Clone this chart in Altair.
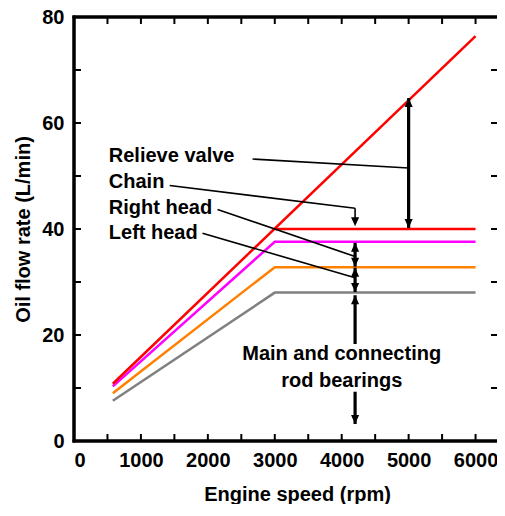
import altair as alt
import pandas as pd

# ---------------- data ----------------
pump_x = [580, 6000]
pump_y = [10.8, 76.4]
relief_x = [3000, 6000]
relief_y = [40.0, 40.0]
curve_x = [580, 3000, 6000]
chain_y = [10.3, 37.6, 37.6]
right_head_y = [9.0, 32.8, 32.8]
left_head_y = [7.6, 28.0, 28.0]

series_names = ["Pump output", "Relief valve limit", "Less chain", "Less right head", "Less left head"]
series_colors = ["#FF0000", "#FF0000", "#FF00FF", "#FF8000", "#808080"]

label_text = ["Relieve valve", "Chain", "Right head", "Left head"]
label_x = [520, 520, 520, 520]
label_y = [53.7, 48.8, 43.9, 39.25]
bearing_text = ["Main and connecting", "rod bearings"]
bearing_x = [4000, 4000]
bearing_y = [16.4, 11.4]

leader_x = [2668, 1430, 4200, 2145, 1920]
leader_y = [53.2, 48.2, 43.9, 43.7, 39.2]
leader_x2 = [5000, 4200, 4200, 4200, 4200]
leader_y2 = [51.5, 43.9, 41.8, 34.8, 30.8]

shaft_x = [5000, 4200, 4200, 4200, 4200]
shaft_y = [64.7, 37.4, 32.7, 18.3, 9.3]
shaft_y2 = [40.2, 32.9, 28.1, 27.5, 3.2]

head_x = [5000, 5000, 4200, 4200, 4200, 4200, 4200, 4200, 4200]
head_y = [64.7, 40.2, 40.5, 37.4, 32.9, 32.7, 28.1, 27.5, 3.2]
head_dir = ["up", "down", "down", "up", "down", "up", "down", "up", "down"]

x_labels = [0, 1000, 2000, 3000, 4000, 5000, 6000]
y_labels = [0, 20, 40, 60, 80]
x_ticks = [500, 1000, 1500, 2000, 2500, 3000, 3500, 4000, 4500, 5000, 5500, 6000]
y_ticks = [10, 20, 30, 40, 50, 60, 70]
x_min, x_max = 0, 6440
y_min, y_max = 0, 80

# ---------------- build ----------------
W, H = 431, 424
FONT = "Liberation Sans"
px_x = (x_max - x_min) / W   # rpm per pixel
px_y = (y_max - y_min) / H   # L/min per pixel

rows = []
def add(name, xs, ys):
    for i, (a, b) in enumerate(zip(xs, ys)):
        rows.append({"series": name, "x": a, "y": b, "o": i})
add("Less left head", curve_x, left_head_y)
add("Less right head", curve_x, right_head_y)
add("Less chain", curve_x, chain_y)
add("Pump output", pump_x, pump_y)
add("Relief valve limit", relief_x, relief_y)
lines_df = pd.DataFrame(rows)

xscale = alt.Scale(domain=[x_min, x_max], nice=False, zero=False)
yscale = alt.Scale(domain=[y_min, y_max], nice=False, zero=False)

xaxis = alt.Axis(values=x_labels, format="d", gridOpacity=0, tickOpacity=0, domainOpacity=0,
                 labelFontSize=20, labelFontWeight="bold", labelFont=FONT,
                 labelColor="black", labelPadding=4, title="Engine speed (rpm)",
                 titleFontSize=20, titleFontWeight="bold", titleFont=FONT, titleColor="black",
                 titlePadding=14, titleX=223)
yaxis = alt.Axis(values=y_labels, format="d", gridOpacity=0, tickOpacity=0, domainOpacity=0,
                 labelFontSize=20, labelFontWeight="bold", labelFont=FONT,
                 labelColor="black", labelPadding=5, title="Oil flow rate (L/min)",
                 titleFontSize=20, titleFontWeight="bold", titleFont=FONT, titleColor="black",
                 titlePadding=8)

def X(f):
    return alt.X(f, type="quantitative", scale=xscale, axis=xaxis)
def Y(f):
    return alt.Y(f, type="quantitative", scale=yscale, axis=yaxis)

# frame and ticks as thin filled rectangles (data coordinates)
fw = 1.5   # half frame width, px
rects = [
    (x_min - fw * px_x, x_min + fw * px_x, y_min - fw * px_y, y_max + fw * px_y),
    (x_min - fw * px_x, x_max, y_min - fw * px_y, y_min + fw * px_y),
    (x_min - fw * px_x, x_max, y_max - fw * px_y, y_max + fw * px_y),
]
for v in x_ticks:
    rects.append((v - 1 * px_x, v + 1 * px_x, y_min, y_min + 7 * px_y))
    rects.append((v - 1 * px_x, v + 1 * px_x, y_max - 7 * px_y, y_max))
for v in y_ticks:
    rects.append((x_min, x_min + 7 * px_x, v - 1 * px_y, v + 1 * px_y))
    rects.append((x_max - 14 * px_x, x_max, v - 1 * px_y, v + 1 * px_y))
rect_df = pd.DataFrame(rects, columns=["x", "x2", "y", "y2"])
frame = alt.Chart(rect_df).mark_rect(color="black", opacity=1, strokeWidth=0).encode(
    x=X("x"), x2="x2", y=Y("y"), y2="y2")

lines = alt.Chart(lines_df).mark_line(strokeWidth=2.5, strokeCap="butt").encode(
    x=X("x"), y=Y("y"),
    stroke=alt.Stroke("series:N", scale=alt.Scale(domain=series_names, range=series_colors), legend=None),
    detail="series:N", order="o:Q")

leaders_df = pd.DataFrame({"x": leader_x, "y": leader_y, "x2": leader_x2, "y2": leader_y2})
leaders = alt.Chart(leaders_df).mark_rule(color="black", strokeWidth=1.6).encode(
    x=X("x"), y=Y("y"), x2="x2", y2="y2")

shafts_df = pd.DataFrame({"x": shaft_x, "y": shaft_y, "y2": shaft_y2})
shafts = alt.Chart(shafts_df).mark_rule(color="black", strokeWidth=3.2).encode(
    x=X("x"), y=Y("y"), y2="y2")

heads_df = pd.DataFrame({"x": head_x, "y": head_y, "dir": head_dir})
up_heads = alt.Chart(heads_df).transform_filter(alt.datum.dir == "up").mark_point(
    shape="M -0.45 1 L 0.45 1 L 0 0 Z", size=324, filled=True, color="black", opacity=1,
    strokeWidth=0).encode(x=X("x"), y=Y("y"))
down_heads = alt.Chart(heads_df).transform_filter(alt.datum.dir == "down").mark_point(
    shape="M -0.45 -1 L 0.45 -1 L 0 0 Z", size=324, filled=True, color="black", opacity=1,
    strokeWidth=0).encode(x=X("x"), y=Y("y"))

labels_df = pd.DataFrame({"t": label_text, "x": label_x, "y": label_y})
labels = alt.Chart(labels_df).mark_text(align="left", baseline="middle", fontSize=20,
                                        fontWeight="bold", font=FONT, color="black").encode(
    x=X("x"), y=Y("y"), text="t:N")

bear_df = pd.DataFrame({"t": bearing_text, "x": bearing_x, "y": bearing_y})
bear = alt.Chart(bear_df).mark_text(align="center", baseline="middle", fontSize=20,
                                    fontWeight="bold", font=FONT, color="black").encode(
    x=X("x"), y=Y("y"), text="t:N")

chart = alt.layer(
    frame, lines, leaders, shafts, up_heads, down_heads, labels, bear
).properties(
    width=W, height=H,
    background="white",
    autosize=alt.AutoSizeParams(type="none"),
    padding={"left": 66, "top": 9, "right": -8, "bottom": 63},
).configure_view(stroke="black", strokeWidth=3)

chart.save("out.html", embed_options={"renderer": "svg", "actions": False})
